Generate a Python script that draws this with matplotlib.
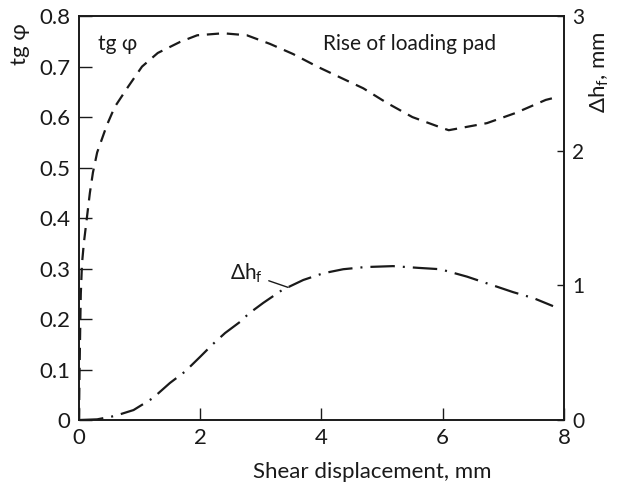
import matplotlib
matplotlib.use("Agg")
import matplotlib.pyplot as plt
import numpy as np

plt.rcParams['font.family'] = ['Lato', 'DejaVu Sans']
plt.rcParams['mathtext.default'] = 'regular'

# tg(phi) against shear displacement (left axis)
disp_tg = [0.0, 0.01, 0.02, 0.03, 0.05, 0.08, 0.13, 0.18, 0.23, 0.30, 0.46,
           0.59, 0.81, 1.04, 1.30, 1.67, 1.95, 2.38, 2.77, 3.15, 3.53, 3.93,
           4.30, 4.69, 5.08, 5.50, 6.00, 6.10, 6.73, 7.20, 7.70, 7.90]
tg_phi = [0.0, 0.10, 0.18, 0.25, 0.31, 0.35, 0.40, 0.45, 0.49, 0.53, 0.584,
          0.62, 0.66, 0.70, 0.727, 0.749, 0.762, 0.766, 0.762, 0.745, 0.725, 0.70,
          0.679, 0.657, 0.628, 0.60, 0.578, 0.574, 0.588, 0.608, 0.634, 0.64]

# rise of loading pad dh_f, mm (right axis)
disp_dh = [0.0, 0.30, 0.59, 0.90, 1.22, 1.50, 1.75, 2.00, 2.20, 2.41, 2.66,
           2.80, 3.04, 3.35, 3.70, 4.03, 4.36, 4.72, 5.18, 5.60, 5.96, 6.40,
           6.83, 7.16, 7.50, 7.82]
dh_f = [0.0, 0.005, 0.03, 0.074, 0.163, 0.275, 0.36, 0.47, 0.56, 0.646, 0.73,
        0.79, 0.87, 0.965, 1.04, 1.09, 1.12, 1.136, 1.143, 1.13, 1.12, 1.065,
        1.0, 0.95, 0.905, 0.846]

left_ticks = [0, 0.1, 0.2, 0.3, 0.4, 0.5, 0.6, 0.7, 0.8]
left_labels = ['0', '0.1', '0.2', '0.3', '0.4', '0.5', '0.6', '0.7', '0.8']
x_ticks = [0, 2, 4, 6, 8]
right_ticks = [0, 1, 2, 3]

ink = '#1a1a1a'

fig = plt.figure(figsize=(6.17, 4.82), dpi=100)
ax = fig.add_axes([0.128, 0.1286, 0.786, 0.838])

ax.plot(disp_tg, tg_phi, color=ink, lw=1.6, linestyle=(0, (5.5, 3.5)))
ax.set_xlim(0, 8)
ax.set_ylim(0, 0.8)
ax.set_xticks(x_ticks)
ax.set_yticks(left_ticks)
ax.set_yticklabels(left_labels)
ax.tick_params(axis='both', direction='in', length=9, width=1.0,
               labelsize=16, colors=ink, pad=6)
ax.tick_params(axis='y', right=False)
for s in ax.spines.values():
    s.set_linewidth(1.2)
    s.set_color(ink)

ax.set_ylabel('tg φ', fontsize=16, color=ink, rotation=90)
ax.yaxis.set_label_coords(-0.1, 0.93)
ax.set_xlabel('Shear displacement, mm', fontsize=16, color=ink)
ax.xaxis.set_label_coords(0.605, -0.105)

ax2 = ax.twinx()
ax2.plot(disp_dh, dh_f, color=ink, lw=1.6, linestyle=(0, (11, 3.6, 0.9, 3.6)))
ax2.set_ylim(0, 3)
ax2.set_yticks(right_ticks)
ax2.tick_params(axis='y', direction='in', length=5, width=1.0,
                labelsize=15, colors=ink, pad=6)
ax2.set_ylabel('Δh$_f$, mm', fontsize=16, color=ink, rotation=90)
ax2.yaxis.set_label_coords(1.05, 0.86)
for s in ax2.spines.values():
    s.set_linewidth(1.2)
    s.set_color(ink)

ax.text(0.64, 0.745, 'tg φ', fontsize=15, color=ink, ha='center', va='center')
ax.text(4.03, 0.745, 'Rise of loading pad', fontsize=15, color=ink,
        ha='left', va='center')
ax2.annotate('Δh$_f$', xy=(3.45, 0.985), xytext=(2.77, 1.09), fontsize=15,
             color=ink, ha='center', va='center',
             arrowprops=dict(arrowstyle='-', color=ink, lw=1.0,
                             shrinkA=2, shrinkB=0))

fig.savefig('out.png', dpi=100)
